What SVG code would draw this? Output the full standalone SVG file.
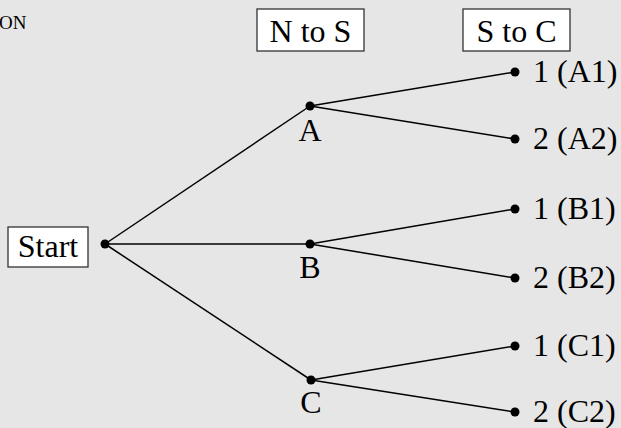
<svg xmlns="http://www.w3.org/2000/svg" width="621" height="428" viewBox="0 0 621 428">
  <style>
    .bg { fill: #e6e6e6; }
    .box { fill: #ffffff; stroke: #333333; stroke-width: 1.3; }
    text { font-family: "Liberation Serif", "Times New Roman", serif; fill: #000000; }
    .lbl { font-size: 32px; }
    .note { font-size: 19px; }
    .edge { stroke: #000000; stroke-width: 1.5; fill: none; }
    .dot { fill: #000000; }
  </style>
  <rect class="bg" x="0" y="0" width="621" height="428"/>

  <text class="note" x="-1" y="29">ON</text>

  <!-- column headers -->
  <g id="hdr-ns">
    <rect class="box" x="257" y="9" width="107" height="42"/>
    <text class="lbl" x="310.5" y="42" text-anchor="middle">N to S</text>
  </g>
  <g id="hdr-sc">
    <rect class="box" x="463" y="9" width="107" height="42"/>
    <text class="lbl" x="516.5" y="42" text-anchor="middle">S to C</text>
  </g>

  <!-- connectors -->
  <g id="edges">
    <line class="edge" x1="105" y1="244" x2="310" y2="106"/>
    <line class="edge" x1="105" y1="244" x2="310" y2="244"/>
    <line class="edge" x1="105" y1="244" x2="311" y2="380"/>
    <line class="edge" x1="310" y1="106" x2="515" y2="72"/>
    <line class="edge" x1="310" y1="106" x2="515" y2="139"/>
    <line class="edge" x1="310" y1="244" x2="515" y2="209"/>
    <line class="edge" x1="310" y1="244" x2="515" y2="278"/>
    <line class="edge" x1="311" y1="380" x2="515" y2="346"/>
    <line class="edge" x1="311" y1="380" x2="515" y2="412"/>
  </g>

  <g id="start">
    <rect class="box" x="8" y="227" width="80" height="40"/>
    <text class="lbl" x="48" y="257" text-anchor="middle">Start</text>
    <circle class="dot" cx="105" cy="244" r="4.5"/>
  </g>

  <g id="node-a">
    <circle class="dot" cx="310" cy="106" r="4.5"/>
    <text class="lbl" x="310" y="141" text-anchor="middle">A</text>
  </g>
  <g id="node-b">
    <circle class="dot" cx="310" cy="244" r="4.5"/>
    <text class="lbl" x="310" y="278" text-anchor="middle">B</text>
  </g>
  <g id="node-c">
    <circle class="dot" cx="311" cy="380" r="4.5"/>
    <text class="lbl" x="311" y="413" text-anchor="middle">C</text>
  </g>

  <g id="leaf-a1">
    <circle class="dot" cx="515" cy="72" r="4.5"/>
    <text class="lbl" x="533" y="82">1 (A1)</text>
  </g>
  <g id="leaf-a2">
    <circle class="dot" cx="515" cy="139" r="4.5"/>
    <text class="lbl" x="533" y="149">2 (A2)</text>
  </g>
  <g id="leaf-b1">
    <circle class="dot" cx="515" cy="209" r="4.5"/>
    <text class="lbl" x="533" y="219">1 (B1)</text>
  </g>
  <g id="leaf-b2">
    <circle class="dot" cx="515" cy="278" r="4.5"/>
    <text class="lbl" x="533" y="288">2 (B2)</text>
  </g>
  <g id="leaf-c1">
    <circle class="dot" cx="515" cy="346" r="4.5"/>
    <text class="lbl" x="533" y="356">1 (C1)</text>
  </g>
  <g id="leaf-c2">
    <circle class="dot" cx="515" cy="412" r="4.5"/>
    <text class="lbl" x="533" y="422">2 (C2)</text>
  </g>
</svg>
